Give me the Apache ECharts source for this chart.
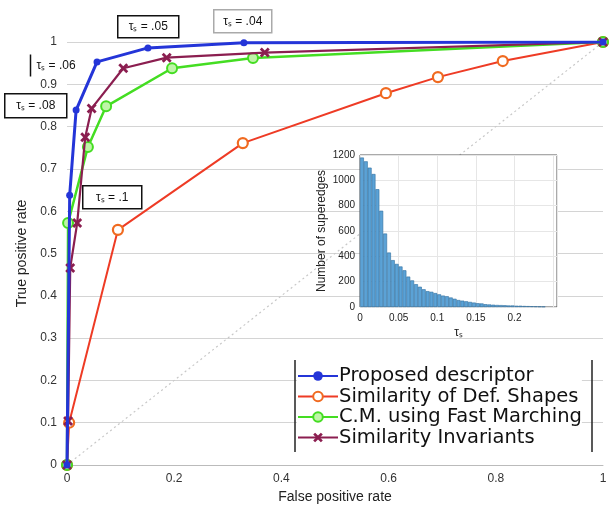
<!DOCTYPE html>
<html><head><meta charset="utf-8">
<script src="https://cdn.jsdelivr.net/npm/echarts@6/dist/echarts.min.js"></script>
<style>html,body{margin:0;padding:0;background:#fff}#c{width:611px;height:512px}</style>
</head><body><div id="c"></div>
<script>
// ROC curves (false positive rate, true positive rate)
const proposedFPR = [0, 0.005, 0.017, 0.056, 0.151, 0.33, 1];
const proposedTPR = [0, 0.638, 0.839, 0.953, 0.986, 0.998, 1];
const defShapesFPR = [0, 0.004, 0.095, 0.328, 0.595, 0.692, 0.813, 1];
const defShapesTPR = [0, 0.10, 0.556, 0.761, 0.879, 0.917, 0.955, 1];
const fastMarchFPR = [0, 0.002, 0.039, 0.073, 0.196, 0.347, 1];
const fastMarchTPR = [0, 0.572, 0.752, 0.848, 0.938, 0.962, 1];
const invariantsFPR = [0, 0.002, 0.006, 0.019, 0.034, 0.046, 0.105, 0.186, 0.369, 1];
const invariantsTPR = [0, 0.104, 0.466, 0.572, 0.775, 0.843, 0.938, 0.963, 0.975, 1];
const chanceFPR = [0, 1];
const chanceTPR = [0, 1];
const seriesNames = ['Proposed descriptor', 'Similarity of Def. Shapes', 'C.M. using Fast Marching', 'Similarity Invariants'];
// histogram of tau_s (bin width 0.005)
const histBinWidth = 0.005;
const histCounts = [1180, 1150, 1100, 1050, 930, 760, 580, 430, 370, 340, 320, 290, 240, 210, 180, 160, 140, 125, 120, 110,
  100, 90, 85, 75, 65, 55, 50, 45, 40, 35, 30, 28, 22, 20, 18, 16, 15, 14, 12, 12, 10, 10, 8, 7, 6, 5, 4, 3];
const mainXTicks = [0, 0.2, 0.4, 0.6, 0.8, 1];
const histXTicks = [0, 0.05, 0.1, 0.15, 0.2];
const annotations = ['τₛ = .05', 'τₛ = .04', 'τₛ = .06', 'τₛ = .08', 'τₛ = .1'];

const zip = (a, b) => a.map((v, i) => [v, b[i]]);
const histData = histCounts.map((v, i) => [(i + 0.5) * histBinWidth, v]);
const FONT = 'Liberation Sans, Arial, sans-serif';
const xPath = 'path://M0,2L2,0L5,3L8,0L10,2L7,5L10,8L8,10L5,7L2,10L0,8L3,5Z';

const chart = echarts.init(document.getElementById('c'), null, {renderer: 'canvas'});
function boxText(x, y, w, h, txt, border) {
  return {type: 'group', left: x, top: y, z: 100, children: [
    {type: 'rect', shape: {x: 0, y: 0, width: w, height: h}, style: {fill: '#fff', stroke: border, lineWidth: 1.5}},
    {type: 'text', x: w / 2, y: h / 2, style: {text: txt, fill: '#111', font: '12px ' + FONT, align: 'center', verticalAlign: 'middle'}}
  ]};
}
chart.setOption({
  animation: false,
  backgroundColor: '#fff',
  textStyle: {fontFamily: FONT},
  grid: [
    {left: 67, right: 8, top: 42, bottom: 47},
    {left: 360, top: 155, width: 197, height: 152, show: true, backgroundColor: '#fff', borderColor: '#555', borderWidth: 1, z: 10}
  ],
  xAxis: [
    {type: 'value', gridIndex: 0, min: 0, max: 1, interval: 0.2,
      name: 'False positive rate', nameLocation: 'middle', nameGap: 22,
      nameTextStyle: {fontSize: 14, color: '#222'},
      axisLine: {lineStyle: {color: '#bbb'}}, axisTick: {show: false},
      axisLabel: {fontSize: 12, color: '#333', margin: 8, formatter: v => mainXTicks.includes(+v.toFixed(2)) ? String(+v.toFixed(2)) : ''},
      splitLine: {show: false}},
    {type: 'value', gridIndex: 1, min: 0, max: 0.255, interval: 0.05,
      name: 'τₛ', nameLocation: 'middle', nameGap: 20, nameTextStyle: {fontSize: 12, color: '#222'},
      axisLine: {show: false}, axisTick: {show: false},
      axisLabel: {fontSize: 10, color: '#222', margin: 6, formatter: v => histXTicks.includes(+v.toFixed(2)) ? String(+v.toFixed(2)) : ''},
      splitLine: {show: true, lineStyle: {color: '#e6e6e6'}}, z: 11}
  ],
  yAxis: [
    {type: 'value', gridIndex: 0, min: 0, max: 1, interval: 0.1,
      name: 'True positive rate', nameLocation: 'middle', nameGap: 38, nameRotate: 90,
      nameTextStyle: {fontSize: 14, color: '#222'},
      axisLine: {show: false}, axisTick: {show: false},
      axisLabel: {fontSize: 12, color: '#333', margin: 10, formatter: v => String(+v.toFixed(1))},
      splitLine: {show: true, lineStyle: {color: '#d4d4d4'}}},
    {type: 'value', gridIndex: 1, min: 0, max: 1200, interval: 200,
      name: 'Number of superedges', nameLocation: 'middle', nameGap: 32, nameRotate: 90,
      nameTextStyle: {fontSize: 12, color: '#222'},
      axisLine: {show: false}, axisTick: {show: false},
      axisLabel: {fontSize: 10, color: '#222', margin: 5, formatter: v => String(v)},
      splitLine: {show: true, lineStyle: {color: '#e6e6e6'}}, z: 11}
  ],
  legend: {
    orient: 'vertical', left: 297, top: 366, itemWidth: 40, itemHeight: 12, itemGap: 0.5,
    data: seriesNames, backgroundColor: '#fff', padding: [0, 0, 0, 0],
    textStyle: {fontSize: 19.5, color: '#111', lineHeight: 20, fontFamily: 'DejaVu Sans, sans-serif', padding: [0, 0, 0, -4]}
  },
  series: [
    {type: 'line', name: 'chance', data: zip(chanceFPR, chanceTPR), silent: true, symbol: 'none',
      lineStyle: {color: '#c8c8c8', width: 1.2, type: [2, 3]}, z: 1},
    {type: 'line', name: seriesNames[1], data: zip(defShapesFPR, defShapesTPR), symbol: 'circle', symbolSize: 10,
      color: '#f07a20', lineStyle: {color: '#ee3b25', width: 2},
      itemStyle: {color: '#fff', borderColor: '#f06a20', borderWidth: 2.2}, z: 3},
    {type: 'line', name: seriesNames[2], data: zip(fastMarchFPR, fastMarchTPR), symbol: 'circle', symbolSize: 10,
      color: '#44dd22', lineStyle: {color: '#44dd22', width: 2.5},
      itemStyle: {color: '#bff5a8', borderColor: '#44dd22', borderWidth: 2}, z: 4},
    {type: 'line', name: seriesNames[3], data: zip(invariantsFPR, invariantsTPR), symbol: xPath, symbolSize: 10,
      color: '#8b1e50', lineStyle: {color: '#8b1e50', width: 2.2},
      itemStyle: {color: '#8b1e50'}, z: 5},
    {type: 'line', name: seriesNames[0], data: zip(proposedFPR, proposedTPR), symbol: 'circle', symbolSize: 7,
      color: '#2435d8', lineStyle: {color: '#2435d8', width: 3},
      itemStyle: {color: '#2435d8'}, z: 6},
    {type: 'bar', name: 'hist', xAxisIndex: 1, yAxisIndex: 1, data: histData, barWidth: 3.9, silent: true,
      itemStyle: {color: '#5ba2d6', borderColor: '#2f6f9f', borderWidth: 0.6}, z: 12}
  ],
  graphic: [
    boxText(117, 15, 61, 22, annotations[0], '#111'),
    boxText(213, 9, 58, 23, annotations[1], '#aaa'),
    {type: 'group', left: 28, top: 52, z: 100, children: [
      {type: 'line', shape: {x1: 0, y1: 0, x2: 0, y2: 22}, style: {stroke: '#111', lineWidth: 1.5}},
      {type: 'text', x: 6, y: 11, style: {text: annotations[2], fill: '#111', font: '12px ' + FONT, verticalAlign: 'middle'}}
    ]},
    boxText(4, 93, 62, 24, annotations[3], '#111'),
    boxText(82, 185, 59, 23, annotations[4], '#111'),
    {type: 'line', z: 100, shape: {x1: 295, y1: 360, x2: 295, y2: 452}, style: {stroke: '#222', lineWidth: 1.5}},
    {type: 'line', z: 100, shape: {x1: 592, y1: 360, x2: 592, y2: 452}, style: {stroke: '#222', lineWidth: 1.5}}
  ]
});
</script></body></html>
